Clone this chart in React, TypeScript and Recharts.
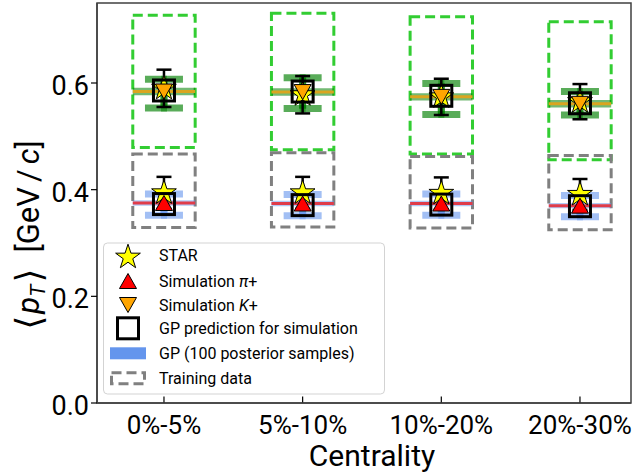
import React from "react";
import {
  ComposedChart,
  ErrorBar,
  ReferenceArea,
  ReferenceLine,
  Scatter,
  XAxis,
  YAxis,
} from "recharts";

const centralityBins = ["0%-5%", "5%-10%", "10%-20%", "20%-30%"];
const binIndex = [0, 1, 2, 3];
const yTicks = [0, 0.2, 0.4, 0.6];

// STAR <pT>
const starPion = [0.394, 0.394, 0.393, 0.391];
const starPionErr = [0.03, 0.03, 0.03, 0.029];
const starKaon = [0.59, 0.578, 0.574, 0.565];
const starKaonErr = [0.035, 0.035, 0.034, 0.033];

// simulation
const simPion = [0.375, 0.374, 0.374, 0.37];
const simKaon = [0.584, 0.583, 0.574, 0.561];

// GP emulator prediction
const gpPion = [0.373, 0.371, 0.372, 0.369];
const gpKaon = [0.586, 0.584, 0.576, 0.562];

// spread of the 100 posterior samples
const gpSamplePion = [0.372, 0.371, 0.372, 0.369];
const gpSamplePionErr = [0.02, 0.02, 0.02, 0.02];
const gpSampleKaon = [0.58, 0.581, 0.57, 0.562];
const gpSampleKaonErr = [0.027, 0.029, 0.029, 0.022];

// range covered by the training designs
const trainPionLow = [0.329, 0.33, 0.328, 0.325];
const trainPionHigh = [0.467, 0.469, 0.462, 0.464];
const trainKaonLow = [0.479, 0.475, 0.467, 0.456];
const trainKaonHigh = [0.727, 0.731, 0.724, 0.715];

const HALF = 0.225;
const FONT = "Roboto, 'DejaVu Sans', sans-serif";
const AXIS = "#404040";

const toPoints = (vals: number[], errs?: number[]) =>
  vals.map((y, i) => ({ x: binIndex[i], y, err: errs ? errs[i] : 0 }));

function starPoints(cx: number, cy: number, R: number, r: number) {
  const pts: string[] = [];
  for (let k = 0; k < 10; k++) {
    const rad = k % 2 === 0 ? R : r;
    const a = (Math.PI / 5) * k - Math.PI / 2;
    pts.push(`${cx + rad * Math.cos(a)},${cy + rad * Math.sin(a)}`);
  }
  return pts.join(" ");
}

const StarMarker = (p: any) =>
  p.cx == null ? <g /> : (
    <polygon points={starPoints(p.cx, p.cy, 13, 5)} fill="#ffff00" stroke="#000" strokeWidth={1} />
  );

const TriUp = (p: any) =>
  p.cx == null ? <g /> : (
    <polygon
      points={`${p.cx},${p.cy - 7.5} ${p.cx - 8.5},${p.cy + 7.5} ${p.cx + 8.5},${p.cy + 7.5}`}
      fill="#ff0000"
      stroke="#000"
      strokeWidth={1}
    />
  );

const TriDown = (p: any) =>
  p.cx == null ? <g /> : (
    <polygon
      points={`${p.cx},${p.cy + 7.5} ${p.cx - 8.5},${p.cy - 7.5} ${p.cx + 8.5},${p.cy - 7.5}`}
      fill="#ffa500"
      stroke="#000"
      strokeWidth={1}
    />
  );

const Square = (p: any) =>
  p.cx == null ? <g /> : (
    <rect x={p.cx - 10.5} y={p.cy - 10.5} width={21} height={21} fill="none" stroke="#000" strokeWidth={3} />
  );

const NoMarker = () => <g />;

const XTick = (props: any) => (
  <text x={props.x} y={props.y + 23} textAnchor="middle" fontFamily={FONT} fontSize={26} fill="#000">
    {centralityBins[props.payload.value]}
  </text>
);

const YTick = (props: any) => (
  <text x={props.x} y={props.y + 12} textAnchor="end" fontFamily={FONT} fontSize={27} fill="#000">
    {Number(props.payload.value).toFixed(1)}
  </text>
);

function Legend() {
  const mx = 128;
  const tx = 159;
  const rows = [255.7, 281, 305, 328.3, 353.3, 378.3];
  const labels: React.ReactNode[] = [
    "STAR",
    <>Simulation <tspan fontStyle="italic">π</tspan>+</>,
    <>Simulation <tspan fontStyle="italic">K</tspan>+</>,
    "GP prediction for simulation",
    "GP (100 posterior samples)",
    "Training data",
  ];
  return (
    <g>
      <rect x={103.5} y={243} width={281} height={151} rx={4} fill="rgba(255,255,255,0.85)" stroke="#d3d3d3" />
      <polygon points={starPoints(mx, rows[0] + 1.5, 13, 5)} fill="#ffff00" stroke="#000" strokeWidth={1} />
      <polygon
        points={`${mx},${rows[1] - 7.5} ${mx - 8.5},${rows[1] + 7.5} ${mx + 8.5},${rows[1] + 7.5}`}
        fill="#ff0000"
        stroke="#000"
      />
      <polygon
        points={`${mx},${rows[2] + 7.5} ${mx - 8.5},${rows[2] - 7.5} ${mx + 8.5},${rows[2] - 7.5}`}
        fill="#ffa500"
        stroke="#000"
      />
      <rect x={mx - 10.5} y={rows[3] - 10.5} width={21} height={21} fill="#fff" stroke="#000" strokeWidth={3} />
      <rect x={110} y={rows[4] - 6} width={36} height={12} fill="cornflowerblue" />
      <rect
        x={111.5}
        y={rows[5] - 5.5}
        width={33}
        height={11}
        fill="none"
        stroke="#808080"
        strokeWidth={3}
        strokeDasharray="10 5"
      />
      {labels.map((l, i) => (
        <text key={i} x={tx} y={rows[i] + 5.5} fontFamily={FONT} fontSize={16} fill="#000">
          {l}
        </text>
      ))}
    </g>
  );
}

export default function App() {
  return (
    <div style={{ position: "relative", width: 643, height: 474, background: "#fff" }}>
      <style>{"body{margin:0}"}</style>
      <ComposedChart width={643} height={474} margin={{ top: 3, right: 12, bottom: 0, left: 0 }}>
        <XAxis
          type="number"
          dataKey="x"
          domain={[-0.483, 3.368]}
          ticks={binIndex}
          interval={0}
          allowDataOverflow
          height={71}
          tickLine={false}
          axisLine={{ stroke: AXIS, strokeWidth: 1.5 }}
          tick={<XTick />}
        />
        <YAxis
          type="number"
          domain={[0, 0.75]}
          ticks={yTicks}
          allowDataOverflow
          width={97}
          tickSize={6}
          tickLine={{ stroke: "#000", strokeWidth: 1.2 }}
          axisLine={{ stroke: AXIS, strokeWidth: 1.5 }}
          tick={<YTick />}
        />
        {/* top and right spines */}
        <ReferenceArea x1={-0.483} x2={3.368} y1={0} y2={0.75} fill="none" stroke={AXIS} strokeWidth={1.5} />
        {binIndex.map((i) => (
          <ReferenceLine key={`t${i}`} segment={[{ x: i, y: 0 }, { x: i, y: 0.012 }]} stroke="#000" strokeWidth={1.2} />
        ))}

        {/* training ranges */}
        {binIndex.map((i) => (
          <ReferenceArea
            key={`tk${i}`}
            x1={i - HALF}
            x2={i + HALF}
            y1={trainKaonLow[i]}
            y2={trainKaonHigh[i]}
            fill="none"
            stroke="#32cd32"
            strokeWidth={3}
            strokeDasharray="10 5"
          />
        ))}
        {binIndex.map((i) => (
          <ReferenceArea
            key={`tp${i}`}
            x1={i - HALF}
            x2={i + HALF}
            y1={trainPionLow[i]}
            y2={trainPionHigh[i]}
            fill="none"
            stroke="#808080"
            strokeWidth={3}
            strokeDasharray="10 5"
          />
        ))}

        {/* posterior bands across each bin */}
        {binIndex.map((i) => (
          <ReferenceArea
            key={`bk${i}`}
            x1={i - HALF}
            x2={i + HALF}
            y1={simKaon[i] - 0.007}
            y2={simKaon[i] + 0.007}
            fill="#008000"
            fillOpacity={0.55}
            stroke="none"
          />
        ))}
        {binIndex.map((i) => (
          <ReferenceArea
            key={`bp${i}`}
            x1={i - HALF}
            x2={i + HALF}
            y1={simPion[i] - 0.005}
            y2={simPion[i] + 0.005}
            fill="cornflowerblue"
            fillOpacity={0.5}
            stroke="none"
          />
        ))}

        {/* simulation lines */}
        {binIndex.map((i) => (
          <ReferenceLine
            key={`lk${i}`}
            segment={[{ x: i - HALF, y: simKaon[i] }, { x: i + HALF, y: simKaon[i] }]}
            stroke="#daa520"
            strokeWidth={3}
          />
        ))}
        {binIndex.map((i) => (
          <ReferenceLine
            key={`lp${i}`}
            segment={[{ x: i - HALF, y: simPion[i] }, { x: i + HALF, y: simPion[i] }]}
            stroke="#e03c4a"
            strokeWidth={3}
          />
        ))}

        {/* GP posterior spread */}
        <Scatter data={toPoints(gpSampleKaon, gpSampleKaonErr)} dataKey="y" shape={NoMarker} isAnimationActive={false}>
          <ErrorBar dataKey="err" direction="y" width={19} strokeWidth={7} stroke="rgba(0,128,0,0.65)" isAnimationActive={false} />
          <ErrorBar dataKey="err" direction="y" width={3} strokeWidth={7} stroke="rgba(0,128,0,0.5)" isAnimationActive={false} />
        </Scatter>
        <Scatter data={toPoints(gpSamplePion, gpSamplePionErr)} dataKey="y" shape={NoMarker} isAnimationActive={false}>
          <ErrorBar dataKey="err" direction="y" width={19} strokeWidth={7} stroke="rgba(100,149,237,0.6)" isAnimationActive={false} />
          <ErrorBar dataKey="err" direction="y" width={3} strokeWidth={7} stroke="rgba(100,149,237,0.5)" isAnimationActive={false} />
        </Scatter>

        {/* STAR data */}
        <Scatter data={toPoints(starKaon, starKaonErr)} dataKey="y" shape={StarMarker} isAnimationActive={false}>
          <ErrorBar dataKey="err" direction="y" width={7.5} strokeWidth={2.5} stroke="#000" isAnimationActive={false} />
        </Scatter>
        <Scatter data={toPoints(starPion, starPionErr)} dataKey="y" shape={StarMarker} isAnimationActive={false}>
          <ErrorBar dataKey="err" direction="y" width={7.5} strokeWidth={2.5} stroke="#000" isAnimationActive={false} />
        </Scatter>

        {/* simulation points and GP prediction */}
        <Scatter data={toPoints(simPion)} dataKey="y" shape={TriUp} isAnimationActive={false} />
        <Scatter data={toPoints(simKaon)} dataKey="y" shape={TriDown} isAnimationActive={false} />
        <Scatter data={toPoints(gpPion)} dataKey="y" shape={Square} isAnimationActive={false} />
        <Scatter data={toPoints(gpKaon)} dataKey="y" shape={Square} isAnimationActive={false} />
      </ComposedChart>

      <svg
        width={643}
        height={474}
        style={{ position: "absolute", left: 0, top: 0, pointerEvents: "none" }}
      >
        <Legend />
        <text x={372} y={466} textAnchor="middle" fontFamily={FONT} fontSize={30} fill="#000">
          Centrality
        </text>
        <text
          transform="translate(39,235) rotate(-90)"
          textAnchor="middle"
          fontFamily={FONT}
          fontSize={31}
          fill="#000"
        >
          <tspan fontSize={36} dy={2}>⟨</tspan>
          <tspan fontStyle="italic" dx={2} dy={-2}>p</tspan>
          <tspan fontStyle="italic" fontSize={21} dy={6}>T</tspan>
          <tspan fontSize={36} dx={2} dy={-4}>⟩</tspan>
          <tspan dx={16} dy={-2}>[GeV</tspan>
          <tspan dx={5}>/</tspan>
          <tspan fontStyle="italic" dx={5}>c</tspan>
          <tspan>]</tspan>
        </text>
      </svg>
    </div>
  );
}
